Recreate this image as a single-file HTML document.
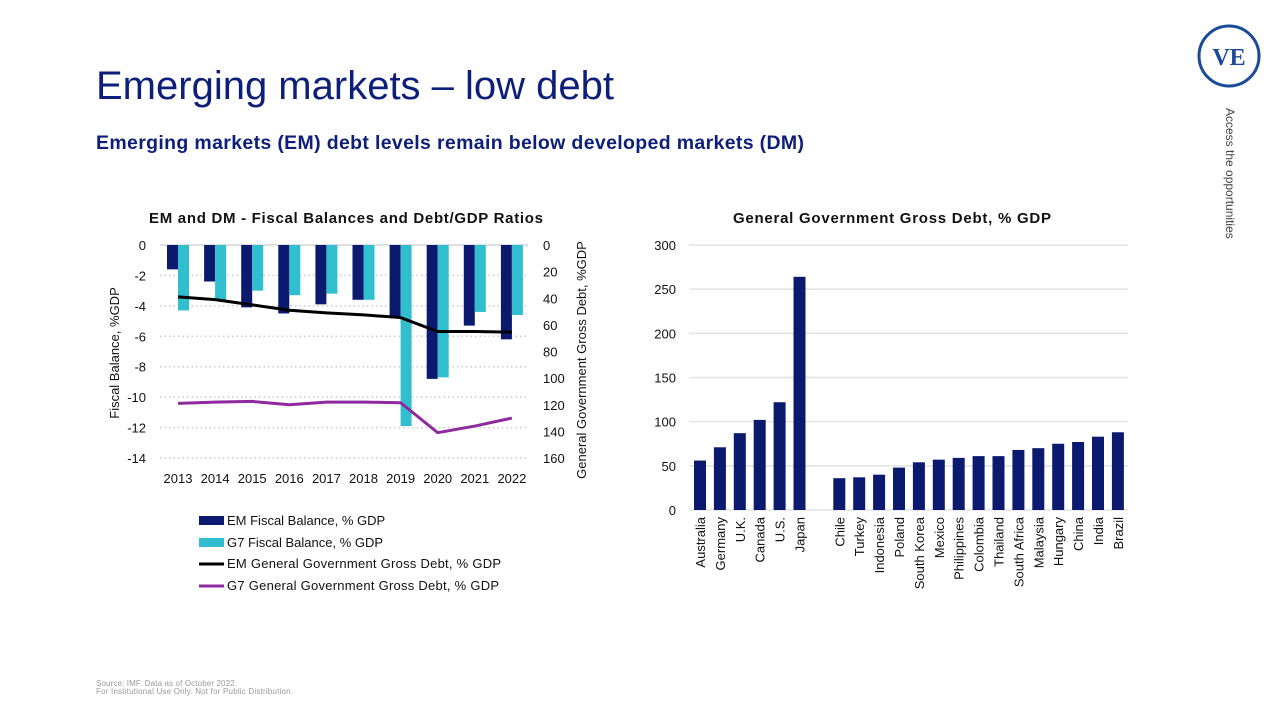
<!DOCTYPE html>
<html><head><meta charset="utf-8">
<style>
body{margin:0;width:1278px;height:716px;background:#fff;overflow:hidden;font-family:"Liberation Sans",sans-serif;}
svg text{font-family:"Liberation Sans",sans-serif;}
</style></head>
<body>
<svg id="page" width="1278" height="716" viewBox="0 0 1278 716">
<text x="96" y="99" font-size="40" fill="#0d1f7a" font-weight="300">Emerging markets – low debt</text>
<text x="96" y="149" font-size="19.5" font-weight="bold" fill="#0d1f7a" textLength="708" lengthAdjust="spacing">Emerging markets (EM) debt levels remain below developed markets (DM)</text>
<g>
<circle cx="1229" cy="56" r="30" fill="none" stroke="#1c4a9a" stroke-width="3"/>
<text x="1229" y="65" text-anchor="middle" font-size="24" font-weight="bold" fill="#1c4a9a" style="font-family:'Liberation Serif',serif">VE</text>
</g>
<text transform="translate(1226,108) rotate(90)" font-size="12" fill="#444">Access the opportunities</text>
<text x="346" y="223" text-anchor="middle" font-size="15" font-weight="bold" fill="#111" textLength="394" lengthAdjust="spacing">EM and DM - Fiscal Balances and Debt/GDP Ratios</text>
<text x="892" y="223" text-anchor="middle" font-size="15" font-weight="bold" fill="#111" textLength="318" lengthAdjust="spacing">General Government Gross Debt, % GDP</text>
<g id="left"></g>
<g id="right"></g>
<g>
<rect x="199" y="516" width="25" height="9" fill="#0b1a6e"/>
<text x="227" y="525" font-size="13" fill="#111">EM Fiscal Balance, % GDP</text>
<rect x="199" y="538" width="25" height="9" fill="#31becf"/>
<text x="227" y="547" font-size="13" fill="#111">G7 Fiscal Balance, % GDP</text>
<line x1="199" y1="564" x2="224" y2="564" stroke="#000" stroke-width="3"/>
<text x="227" y="568" font-size="13" fill="#111" textLength="274" lengthAdjust="spacing">EM General Government Gross Debt, % GDP</text>
<line x1="199" y1="586" x2="224" y2="586" stroke="#8e2a9e" stroke-width="3"/>
<text x="227" y="590" font-size="13" fill="#111" textLength="272" lengthAdjust="spacing">G7 General Government Gross Debt, % GDP</text>
</g>
<text x="96" y="686" font-size="8" fill="#999" textLength="141" lengthAdjust="spacing">Source: IMF. Data as of October 2022.</text>
<text x="96" y="694" font-size="8" fill="#999" textLength="197" lengthAdjust="spacing">For Institutional Use Only. Not for Public Distribution.</text>
</svg>
<script>
const years=["2013","2014","2015","2016","2017","2018","2019","2020","2021","2022"];
const emFiscal=[-1.6,-2.4,-4.1,-4.5,-3.9,-3.6,-4.7,-8.8,-5.3,-6.2];
const g7Fiscal=[-4.3,-3.6,-3.0,-3.3,-3.2,-3.6,-11.9,-8.7,-4.4,-4.6];
const emDebt=[39,41,45,49,51,52.5,54.5,65,65,65.5];
const g7Debt=[119,118,117.5,120,118,118,118.5,141,136,130];
const leftTicks=[0,-2,-4,-6,-8,-10,-12,-14];
const rightTicks=[0,20,40,60,80,100,120,140,160];
const countries=["Australia","Germany","U.K.","Canada","U.S.","Japan","","Chile","Turkey","Indonesia","Poland","South Korea","Mexico","Philippines","Colombia","Thailand","South Africa","Malaysia","Hungary","China","India","Brazil"];
const debtGdp=[56,71,87,102,122,264,null,36,37,40,48,54,57,59,61,61,68,70,75,77,83,88];
const debtTicks=[0,50,100,150,200,250,300];

const NS="http://www.w3.org/2000/svg";
function mk(parent,tag,attrs){const e=document.createElementNS(NS,tag);for(const k in attrs)e.setAttribute(k,attrs[k]);parent.appendChild(e);return e;}

const L=document.getElementById('left');
const yL=v=>245+(-v)*(213/14);
const yR=v=>245+v*(213/160);
const xL=i=>178+i*37.1;
leftTicks.forEach(t=>{
  const g=mk(L,'line',{x1:160,x2:528,y1:yL(t),y2:yL(t),stroke:t===0?'#e0e0e0':'#ccc','stroke-width':t===0?2:1.5,'stroke-dasharray':t===0?'':'1.5,3'});
  
  
  const tx=mk(L,'text',{x:146,y:yL(t)+5,'text-anchor':'end','font-size':13,fill:'#111'});tx.textContent=t;
  
  
});
rightTicks.forEach(t=>{
  const tx=mk(L,'text',{x:543,y:yR(t)+5,'font-size':13,fill:'#111'});tx.textContent=t;
  
  
});
years.forEach((y,i)=>{
  const a=mk(L,'rect',{x:xL(i)-11,y:yL(0),width:11,height:yL(emFiscal[i])-yL(0),fill:'#0b1a6e'});
  
  
  const b=mk(L,'rect',{x:xL(i),y:yL(0),width:11,height:yL(g7Fiscal[i])-yL(0),fill:'#31becf'});
  
  
  const tx=mk(L,'text',{x:xL(i),y:483,'text-anchor':'middle','font-size':13,fill:'#111'});tx.textContent=y;
  
  
});
const p1=mk(L,'polyline',{points:emDebt.map((v,i)=>xL(i)+','+yR(v)).join(' '),fill:'none',stroke:'#000','stroke-width':3});


const p2=mk(L,'polyline',{points:g7Debt.map((v,i)=>xL(i)+','+yR(v)).join(' '),fill:'none',stroke:'#8e2a9e','stroke-width':3});


const t1=mk(L,'text',{transform:'translate(119,353) rotate(-90)','text-anchor':'middle','font-size':13,fill:'#111'});t1.textContent='Fiscal Balance, %GDP';


const t2=mk(L,'text',{transform:'translate(586,360) rotate(-90)','text-anchor':'middle','font-size':13,fill:'#111'});t2.textContent='General Government Gross Debt, %GDP';



const R=document.getElementById('right');
const yD=v=>510-v*(265/300);
const xD=i=>700+i*19.9;
debtTicks.forEach(t=>{
  const g=mk(R,'line',{x1:689,x2:1128,y1:yD(t),y2:yD(t),stroke:'#e3e3e3','stroke-width':1.5});
  
  
  const tx=mk(R,'text',{x:676,y:yD(t)+5,'text-anchor':'end','font-size':13,fill:'#111'});tx.textContent=t;
  
  
});
countries.forEach((c,i)=>{
  if(debtGdp[i]==null)return;
  const r=mk(R,'rect',{x:xD(i)-6,y:yD(debtGdp[i]),width:12,height:yD(0)-yD(debtGdp[i]),fill:'#0b1a6e'});
  
  
  const tx=mk(R,'text',{transform:'translate('+(xD(i)+5)+',517) rotate(-90)','text-anchor':'end','font-size':13,fill:'#111'});tx.textContent=c;
  
  
});
</script>
</body></html>
